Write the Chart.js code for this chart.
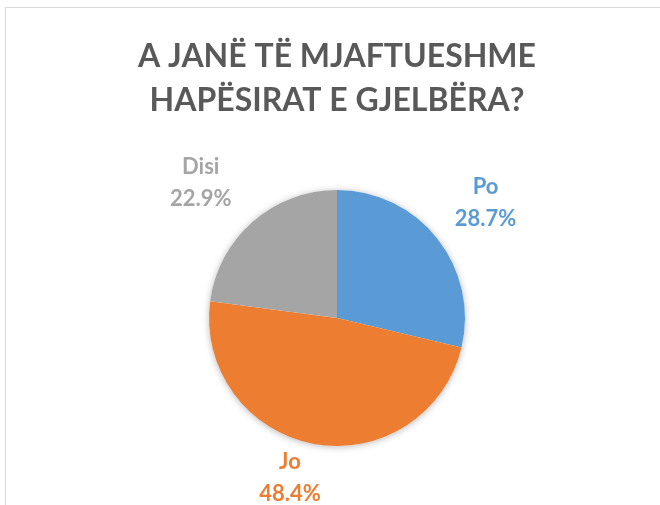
<!DOCTYPE html>
<html>
<head>
<meta charset="utf-8">
<script src="https://cdn.jsdelivr.net/npm/chart.js@4/dist/chart.umd.min.js"></script>
<style>
  html, body { margin: 0; padding: 0; background: #fff; }
  #wrap { position: relative; width: 660px; height: 505px; overflow: hidden; }
  #frame { position: absolute; left: 5px; top: 7px; width: 700px; height: 600px;
           border-left: 1px solid #d9d9d9; border-top: 1px solid #d9d9d9; }
  #chart_canvas { position: absolute; left: 0; top: 0; }
</style>
</head>
<body>
<div id="wrap">
  <div id="frame"></div>
  <canvas id="chart_canvas" width="660" height="505"></canvas>
</div>
<script>
const categories = ['Po', 'Jo', 'Disi'];
const shares = [28.7, 48.4, 22.9];
const sliceColors = ['#5B9BD5', '#ED7D31', '#A5A5A5'];
const titleLines = ['A JANË TË MJAFTUESHME', 'HAPËSIRAT E GJELBËRA?'];

// label distance from centre (in radii) and small angle nudge (degrees)
const labelDist = [1.47, 1.3, 1.5];
const labelNudge = [0.5, 6, -4];

const fontFamily = 'Lato, "Open Sans", sans-serif';

const pieShadow = {
  id: 'pieShadow',
  beforeDatasetsDraw(chart) {
    const arc = chart.getDatasetMeta(0).data[0];
    if (!arc) return;
    const ctx = chart.ctx;
    ctx.save();
    ctx.shadowColor = 'rgba(0,0,0,0.28)';
    ctx.shadowBlur = 7;
    ctx.shadowOffsetY = 1;
    ctx.fillStyle = '#fff';
    ctx.beginPath();
    ctx.arc(arc.x, arc.y, arc.outerRadius, 0, Math.PI * 2);
    ctx.fill();
    ctx.restore();
  }
};

const outsideLabels = {
  id: 'outsideLabels',
  afterDatasetsDraw(chart) {
    const ctx = chart.ctx;
    const meta = chart.getDatasetMeta(0);
    ctx.save();
    ctx.font = 'bold 22px ' + fontFamily;
    ctx.textAlign = 'center';
    ctx.textBaseline = 'middle';
    meta.data.forEach((arc, i) => {
      const mid = (arc.startAngle + arc.endAngle) / 2 + labelNudge[i] * Math.PI / 180;
      const d = arc.outerRadius * labelDist[i];
      const x = arc.x + Math.cos(mid) * d;
      const y = arc.y + Math.sin(mid) * d;
      ctx.fillStyle = sliceColors[i];
      ctx.fillText(categories[i], x, y - 16);
      ctx.fillText(shares[i].toFixed(1) + '%', x, y + 16);
    });
    ctx.restore();
  }
};

const ctx = document.getElementById('chart_canvas');
new Chart(ctx, {
  type: 'pie',
  data: {
    labels: categories,
    datasets: [{
      data: shares,
      backgroundColor: sliceColors,
      borderWidth: 0
    }]
  },
  options: {
    responsive: false,
    animation: false,
    layout: { padding: { top: 0, bottom: 59, left: 14, right: 0 } },
    plugins: {
      legend: { display: false },
      tooltip: { enabled: false },
      title: {
        display: true,
        text: titleLines,
        color: '#595959',
        font: { family: fontFamily, size: 32, weight: 'bold', lineHeight: 1.36 },
        padding: { top: 35, bottom: 68 }
      }
    }
  },
  plugins: [pieShadow, outsideLabels]
});
</script>
</body>
</html>
